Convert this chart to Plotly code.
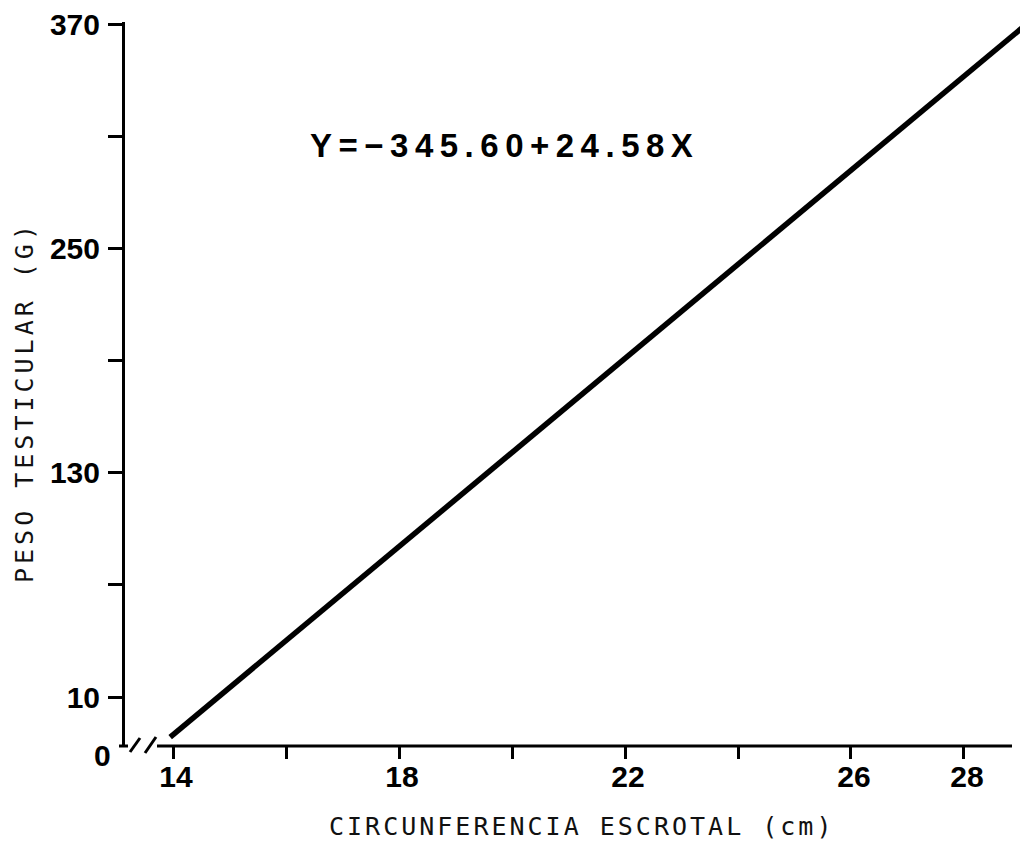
import plotly.graph_objects as go

# ---- data ----
x_line = [13.95, 29.13]          # circunferencia escrotal (cm), line ends
y_line = [-11.4, 370.5]          # peso testicular (g), line ends
x_tick_vals = [14, 16, 18, 20, 22, 24, 26, 28]
x_tick_text = ["14", "", "18", "", "22", "", "26", "28"]
y_tick_vals = [10, 70, 130, 190, 250, 310, 370]
y_tick_text = ["10", "", "130", "", "250", "", "370"]
y_origin_label = "0"
equation = "Y=−345.60+24.58X"
x_title = "CIRCUNFERENCIA ESCROTAL (cm)"
y_title = "PESO TESTICULAR (G)"

OFF = 8  # page body margin
W, H = 1028 - OFF, 841 - OFF
# page-pixel layout targets
PL, PR, PT, PB = 125, 1028, 22, 746
ML, MR, MT, MB = PL - OFF, 0, PT - OFF, 841 - PB
X_RANGE = [13.150, 29.133]
Y_RANGE = [-16.2, 371.07]

TICK_FONT = dict(family="Liberation Sans, Arial, sans-serif", size=30, color="#000", weight=700)
TITLE_FONT = dict(family="DejaVu Sans Mono, monospace", size=25, color="#111")

fig = go.Figure()
fig.add_trace(go.Scatter(x=x_line, y=y_line, mode="lines",
                         line=dict(color="#000", width=5.5), showlegend=False,
                         hoverinfo="skip"))

def px_x(p):
    return (p - PL) / (PR - PL)
def px_y(p):
    return (PB - p) / (PB - PT)

shapes = []
axis_line = dict(type="line", xref="paper", yref="paper", line=dict(color="#000", width=3))
# x axis drawn with a break near the origin
shapes.append(dict(axis_line, x0=px_x(119), x1=px_x(128), y0=0, y1=0))
shapes.append(dict(axis_line, x0=px_x(157), x1=px_x(1012), y0=0, y1=0))
# break marks //
shapes.append(dict(axis_line, x0=px_x(130), x1=px_x(140), y0=px_y(752), y1=px_y(738)))
shapes.append(dict(axis_line, x0=px_x(145), x1=px_x(156), y0=px_y(753), y1=px_y(737)))

annotations = [
    dict(text=f'<span style="letter-spacing:6.5px">{equation}</span>', x=px_x(504), y=px_y(145),
         xref="paper", yref="paper", showarrow=False, xanchor="center", yanchor="middle",
         font=dict(family="Liberation Sans, Arial, sans-serif", size=33, color="#000", weight=700)),
    dict(text=f'<span style="letter-spacing:3px">{x_title}</span>', x=px_x(581), y=px_y(826),
         xref="paper", yref="paper", showarrow=False, xanchor="center", yanchor="middle",
         font=TITLE_FONT),
    dict(text=f'<span style="letter-spacing:4px">{y_title}</span>', x=px_x(24), y=px_y(402),
         xref="paper", yref="paper", showarrow=False, xanchor="center", yanchor="middle",
         textangle=-90, font=TITLE_FONT),
    dict(text=y_origin_label, x=px_x(102), y=px_y(756),
         xref="paper", yref="paper", showarrow=False, xanchor="center", yanchor="middle",
         font=TICK_FONT),
]

fig.update_layout(
    width=W, height=H,
    margin=dict(l=ML, r=MR, t=MT, b=MB, pad=0),
    paper_bgcolor="white", plot_bgcolor="white",
    shapes=shapes, annotations=annotations,
    xaxis=dict(range=X_RANGE, showgrid=False, zeroline=False, showline=False,
               tickmode="array", tickvals=x_tick_vals, ticktext=x_tick_text,
               ticks="outside", ticklen=12, tickwidth=2.5, tickcolor="#000",
               tickfont=TICK_FONT, ticklabelstandoff=-8, ticklabelshift=3),
    yaxis=dict(range=Y_RANGE, showgrid=False, zeroline=False, showline=True,
               linecolor="#000", linewidth=3,
               tickmode="array", tickvals=y_tick_vals, ticktext=y_tick_text,
               ticks="outside", ticklen=14, tickwidth=3, tickcolor="#000",
               tickfont=TICK_FONT, ticklabelstandoff=2, ticklabeloverflow="allow"),
)

fig.write_html("out.html")
